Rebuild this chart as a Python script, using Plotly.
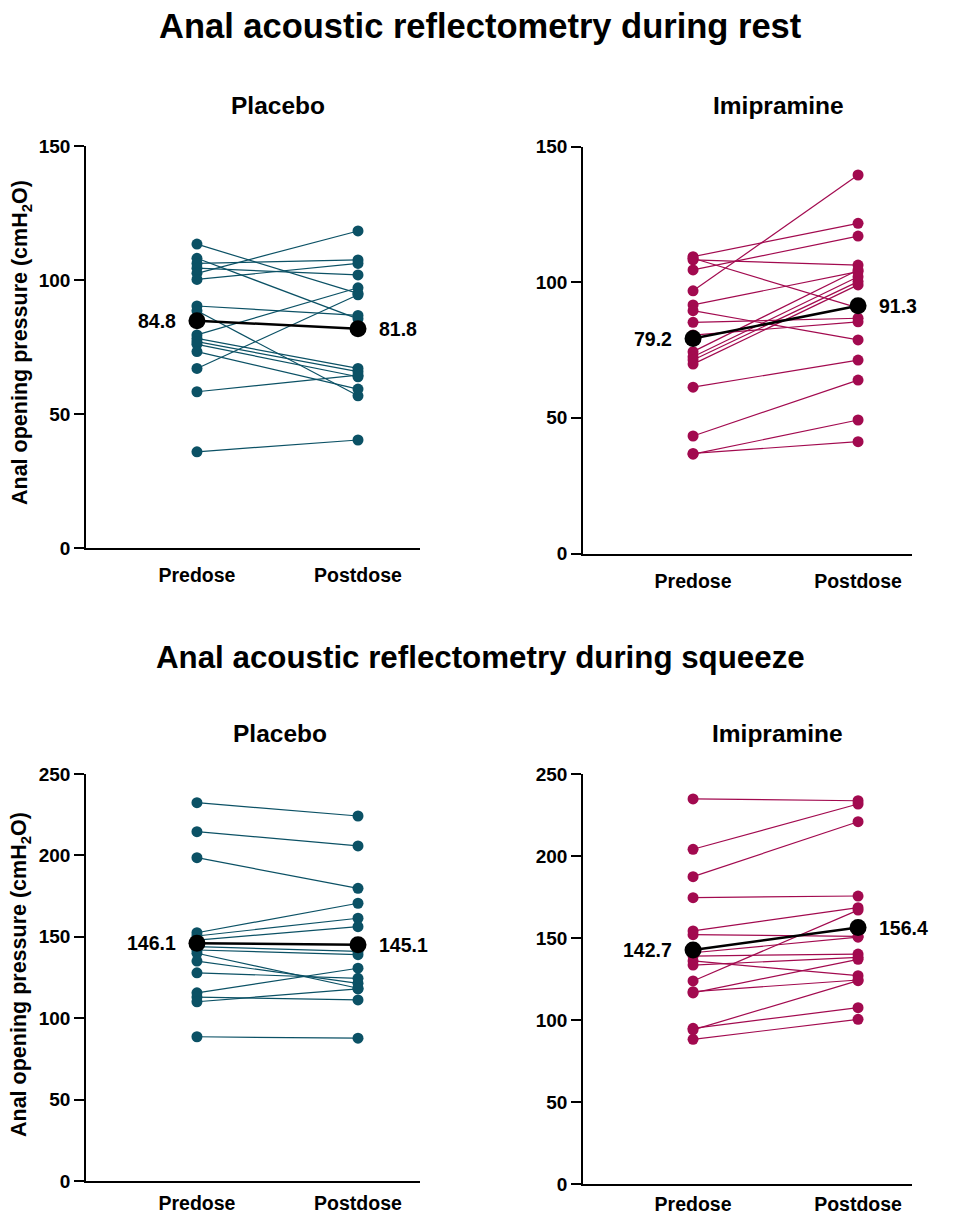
import plotly.graph_objects as go

# ---------------- data ----------------
conditions = ["Predose", "Postdose"]

rest_placebo_pre = [113.4, 108.1, 106.2, 104.4, 102.5, 100.2, 90.3, 88.5, 79.5, 78.2, 77.0, 76.0, 73.3, 67.0, 58.3, 35.9]
rest_placebo_post = [95.0, 85.5, 107.5, 101.9, 118.3, 106.2, 86.8, 56.8, 97.1, 67.0, 65.8, 63.9, 59.3, 94.5, 64.5, 40.3]
rest_placebo_mean = [84.8, 81.8]

rest_imip_pre = [109.4, 108.2, 108.8, 104.5, 96.8, 91.6, 89.5, 85.2, 80.5, 74.4, 72.5, 71.3, 69.8, 61.3, 43.3, 36.6, 36.9]
rest_imip_post = [121.7, 106.3, 90.5, 117.0, 139.5, 103.9, 78.7, 86.7, 85.4, 104.5, 102.0, 100.2, 99.0, 71.3, 63.9, 49.2, 41.2]
rest_imip_mean = [79.2, 91.3]

sq_placebo_pre = [232.4, 214.6, 198.6, 152.5, 150.5, 148.0, 144.0, 141.9, 139.9, 135.1, 127.9, 115.6, 113.0, 110.1, 88.6]
sq_placebo_post = [224.2, 205.8, 179.8, 170.6, 161.4, 156.2, 141.0, 139.0, 118.4, 121.4, 124.5, 130.7, 111.2, 118.0, 87.7]
sq_placebo_mean = [146.1, 145.1]

sq_imip_pre = [234.8, 204.1, 187.4, 174.6, 154.3, 152.0, 141.0, 139.0, 136.0, 133.5, 123.8, 117.3, 116.5, 94.9, 94.0, 88.2]
sq_imip_post = [233.7, 231.7, 220.9, 175.6, 168.5, 151.0, 150.5, 140.2, 127.0, 138.2, 167.0, 124.4, 137.0, 107.5, 124.0, 100.4]
sq_imip_mean = [142.7, 156.4]

rest_ticks = [0, 50, 100, 150]
squeeze_ticks = [0, 50, 100, 150, 200, 250]

main_titles = ["Anal acoustic reflectometry during rest", "Anal acoustic reflectometry during squeeze"]
y_title = "Anal opening pressure (cmH<sub>2</sub>O)"

# ---------------- style ----------------
PAGE_MARGIN = 8          # default body margin of the html page
W, H = 968 - 2 * PAGE_MARGIN, 1215 - PAGE_MARGIN
TEAL = "#0B5165"
MAGENTA = "#A20A4F"
FONT = "Liberation Sans, Arial, Helvetica, sans-serif"

fig = go.Figure()

def px_x(p):
    return (p - PAGE_MARGIN) / W

def px_y(p):
    return 1 - (p - PAGE_MARGIN) / H

def bold(size):
    return dict(size=size, family=FONT, color="black", weight="bold")

panels = [
    # (pre, post, mean, color, axis suffix, x px domain, y px domain (top,bottom), yticks, x range, label standoff)
    (rest_placebo_pre, rest_placebo_post, rest_placebo_mean, TEAL, "", (86, 420), (146, 548), rest_ticks, (-0.689, 1.385), 9),
    (rest_imip_pre, rest_imip_post, rest_imip_mean, MAGENTA, "2", (583, 912), (146.5, 553.5), rest_ticks, (-0.667, 1.327), 9),
    (sq_placebo_pre, sq_placebo_post, sq_placebo_mean, TEAL, "3", (86, 420), (774, 1181), squeeze_ticks, (-0.689, 1.385), 4),
    (sq_imip_pre, sq_imip_post, sq_imip_mean, MAGENTA, "4", (583, 912), (774, 1184), squeeze_ticks, (-0.667, 1.327), 2),
]

annotations = []
layout_axes = {}
for pre, post, mean, color, sfx, (x0, x1), (ytop, ybot), yticks, xr, standoff in panels:
    xs, ys = [], []
    for a, b in zip(pre, post):
        xs += [0, 1, None]
        ys += [a, b, None]
    fig.add_trace(go.Scatter(
        x=xs, y=ys, mode="lines+markers",
        line=dict(color=color, width=1.2),
        marker=dict(color=color, size=11),
        xaxis="x" + sfx, yaxis="y" + sfx, showlegend=False, hoverinfo="skip"))
    fig.add_trace(go.Scatter(
        x=[0, 1], y=mean, mode="lines+markers",
        line=dict(color="black", width=2.5),
        marker=dict(color="black", size=17),
        xaxis="x" + sfx, yaxis="y" + sfx, showlegend=False))
    xref = "x" + sfx
    yref = "y" + sfx
    annotations.append(dict(x=0, y=mean[0], xref=xref, yref=yref, text=f"{mean[0]:.1f}",
                            showarrow=False, xanchor="right", xshift=-19, font=bold(19.5)))
    annotations.append(dict(x=1, y=mean[1], xref=xref, yref=yref, text=f"{mean[1]:.1f}",
                            showarrow=False, xanchor="left", xshift=19, font=bold(19.5)))
    layout_axes["xaxis" + sfx] = dict(
        domain=[px_x(x0), px_x(x1)], range=list(xr),
        tickvals=[0, 1], ticktext=conditions, showgrid=False, zeroline=False,
        showline=True, linecolor="black", linewidth=1.5, ticks="",
        ticklabelstandoff=standoff, automargin=False,
        tickfont=bold(19.5), anchor="y" + sfx, fixedrange=True)
    layout_axes["yaxis" + sfx] = dict(
        domain=[px_y(ybot), px_y(ytop)], range=[0, yticks[-1]],
        tickvals=yticks, showgrid=False, zeroline=False,
        showline=True, linecolor="black", linewidth=1.5,
        ticks="outside", ticklen=10, tickwidth=1.5, tickcolor="black",
        automargin=False, tickfont=bold(19), anchor="x" + sfx, fixedrange=True)

# main titles
for text, ypx, size in zip(main_titles, [26, 657], [34.5, 31.3]):
    annotations.append(dict(x=px_x(480), y=px_y(ypx), xref="paper", yref="paper", text=text,
                            showarrow=False, xanchor="center", yanchor="middle", font=bold(size)))
# group titles
for text, xpx, ypx in [("Placebo", 278, 105), ("Imipramine", 778, 105),
                       ("Placebo", 280, 733), ("Imipramine", 777, 733)]:
    annotations.append(dict(x=px_x(xpx), y=px_y(ypx), xref="paper", yref="paper", text=text,
                            showarrow=False, xanchor="center", yanchor="middle", font=bold(24.5)))
# y-axis titles
for ypx in [343, 975]:
    annotations.append(dict(x=px_x(21), y=px_y(ypx), xref="paper", yref="paper", text=y_title,
                            showarrow=False, xanchor="center", yanchor="middle", textangle=-90,
                            font=bold(21.5)))

fig.update_layout(
    width=W, height=H,
    margin=dict(l=0, r=0, t=0, b=0, autoexpand=False),
    paper_bgcolor="white", plot_bgcolor="white",
    annotations=annotations,
    **layout_axes)

fig.write_html("out.html")
